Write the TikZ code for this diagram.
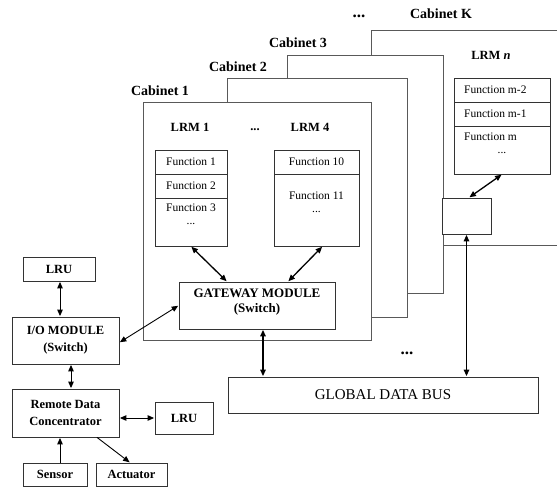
\documentclass[tikz,border=0pt]{standalone}
\usepackage{fontspec}
\setmainfont{Liberation Serif}
\usetikzlibrary{arrows.meta}
\begin{document}
\begin{tikzpicture}[x=1pt,y=-1pt,
  cab/.style={draw=black!65,line width=0.9pt,fill=white,inner sep=0pt},
  box/.style={draw=black!80,line width=0.8pt,fill=white,inner sep=0pt},
  lbl/.style={font=\fontsize{14}{16}\selectfont\bfseries,inner sep=0pt},
  fn/.style={font=\fontsize{11.5}{13}\selectfont,inner sep=0pt},
  dots/.style={inner sep=0pt,text height=2pt,text depth=0pt},
  bl/.style={font=\fontsize{12.5}{16}\selectfont\bfseries,align=center,inner sep=0pt},
  tip/.tip={Triangle[length=6.5pt,width=5.5pt]},
  arr/.style={line width=1.3pt,tip-tip,shorten <=0.5pt,shorten >=0.5pt},
  arrs/.style={line width=0.9pt,tip-tip,shorten <=0.5pt,shorten >=0.5pt},
  arro/.style={line width=0.9pt,-tip,shorten >=0.5pt}]
\clip (0,0) rectangle (557,487);
\fill[white] (0,0) rectangle (557,487);

% cabinets (back to front)
\node[cab,minimum width=220,minimum height=215] (cabK) at (481,137.5) {};
\node[cab,minimum width=156,minimum height=238] (cab3) at (365,174) {};
\node[cab,minimum width=180,minimum height=239] (cab2) at (317,197.5) {};
\node[cab,minimum width=228,minimum height=238] (cab1) at (257,221) {};

\node[lbl] (lK) at (441,14) {Cabinet K};
\node[lbl] (l3) at (298,43) {Cabinet 3};
\node[lbl] (l2) at (238,67) {Cabinet 2};
\node[lbl] (l1) at (160,91) {Cabinet 1};
\node[dots,font=\fontsize{17}{17}\selectfont\bfseries] (dtop) at (359,17) {...};
\node[dots,font=\fontsize{17}{17}\selectfont\bfseries] (dbot) at (407,353) {...};

% LRM labels
\node[bl] (lrm1) at (190,127) {LRM 1};
\node[dots,font=\fontsize{12.5}{16}\selectfont\bfseries] (ldots) at (255,129) {...};
\node[bl] (lrm4) at (310,127) {LRM 4};
\node[bl] (lrmn) at (491,55) {LRM \textit{n}};

% LRM 1 functions
\node[box,minimum width=72,minimum height=24] (f1) at (191,162) {};
\node[fn] at (f1) {Function 1};
\node[box,minimum width=72,minimum height=24] (f2) at (191,186) {};
\node[fn] at (f2) {Function 2};
\node[box,minimum width=72,minimum height=48] (f3) at (191,222) {};
\node[fn] (t3) at (191,208) {Function 3};
\node[fn,dots] (d3) at (191,223) {...};

% LRM 4 functions
\node[box,minimum width=85,minimum height=24] (f10) at (316.5,162) {};
\node[fn] at (f10) {Function 10};
\node[box,minimum width=85,minimum height=72] (f11) at (316.5,210) {};
\node[fn] (t11) at (316.5,196) {Function 11};
\node[fn,dots] (d11) at (316.5,211) {...};

% LRM n functions
\node[box,minimum width=96,minimum height=24] (fm2) at (502,90) {};
\node[fn,anchor=west] at (464,90) {Function m-2};
\node[box,minimum width=96,minimum height=24] (fm1) at (502,114) {};
\node[fn,anchor=west] at (464,114) {Function m-1};
\node[box,minimum width=96,minimum height=48] (fm) at (502,150) {};
\node[fn,anchor=west] (tm) at (464,137) {Function m};
\node[fn,dots] (dm) at (502,152) {...};

% small switch box
\node[box,minimum width=49,minimum height=36] (sb) at (466.5,216) {};

% gateway
\node[box,minimum width=156,minimum height=47] (gw) at (257,305.5) {};
\node[bl,font=\fontsize{13}{16}\selectfont\bfseries] (gwt) at (257,302) {GATEWAY MODULE\\[-1pt](Switch)};

% global bus
\node[box,minimum width=310,minimum height=36,font=\fontsize{15}{16}\selectfont] (bus) at (383,395) {GLOBAL DATA BUS};

% left side
\node[box,bl,minimum width=72,minimum height=24] (lru1) at (59,269) {LRU};
\node[box,bl,minimum width=107,minimum height=47] (io) at (65.5,340.5) {I/O MODULE\\[1pt](Switch)};
\node[box,bl,minimum width=107,minimum height=48] (rdc) at (65.5,413) {Remote Data\\[1pt]Concentrator};
\node[box,bl,minimum width=58,minimum height=32] (lru2) at (184,418) {LRU};
\node[box,bl,minimum width=64,minimum height=23] (sen) at (55,474.5) {Sensor};
\node[box,bl,minimum width=71,minimum height=23] (act) at (131.5,474.5) {Actuator};

% connectors
\draw[arr] (f3.south) -- ([xshift=-30]gw.north);
\draw[arr] ([xshift=6]f11.south) -- ([xshift=31]gw.north);
\draw[arr] ([xshift=6]gw.south) -- ([xshift=6]gw.south |- bus.north);
\draw[arr] ([xshift=2.5]sb.north) -- (fm.south);
\draw[arr] (sb.south) -- (sb.south |- bus.north);
\draw[arrs] ([yshift=-2]io.east) -- (gw.west);
\draw[arrs] ([xshift=1]lru1.south) -- ([xshift=1]lru1.south |- io.north);
\draw[arrs] ([xshift=5.5]io.south) -- ([xshift=5.5]rdc.north);
\draw[arrs] (rdc.east |- lru2.west) -- (lru2.west);
\draw[arro] ([xshift=5]sen.north) -- ([xshift=5]sen.north |- rdc.south);
\draw[arro] ([xshift=31.5]rdc.south) -- ([xshift=-1.5]act.north);
\end{tikzpicture}
\end{document}
